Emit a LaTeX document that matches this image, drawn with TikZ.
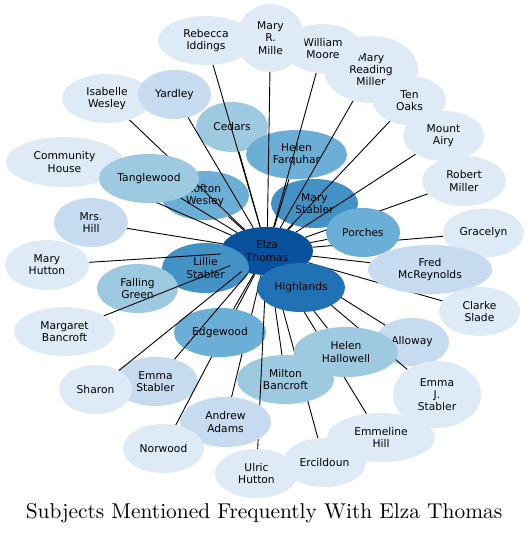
\documentclass[tikz,border=0pt]{standalone}
\usepackage{fontspec}
\usetikzlibrary{shapes.geometric}
\newfontfamily\labelfont{DejaVu Sans}
\newfontfamily\titlefont{lmroman10-regular.otf}
\definecolor{blues0}{HTML}{DEEBF7}
\definecolor{blues1}{HTML}{C6DBEF}
\definecolor{blues2}{HTML}{9ECAE1}
\definecolor{blues3}{HTML}{6BAED6}
\definecolor{blues4}{HTML}{4292C6}
\definecolor{blues5}{HTML}{2171B5}
\definecolor{blues6}{HTML}{08519C}
\pgfdeclarelayer{back}
\pgfdeclarelayer{under}
\pgfdeclarelayer{mid}
\pgfsetlayers{back,under,mid,main}

\begin{document}
\begin{tikzpicture}[x=1pt, y=-1pt,
	subj/.style={ellipse, inner sep=0pt, minimum height=49pt, align=center, text=black,
		font=\labelfont\fontsize{10.7}{12.3}\selectfont},
	lv0/.style={subj, fill=blues0}, lv1/.style={subj, fill=blues1},
	lv2/.style={subj, fill=blues2}, lv3/.style={subj, fill=blues3},
	lv4/.style={subj, fill=blues4}, lv5/.style={subj, fill=blues5},
	lv6/.style={subj, fill=blues6},
	link/.style={line width=0.9pt}]
	\useasboundingbox (0,0) rectangle (529,534);
	% nodes lying under the connectors
	\begin{pgfonlayer}{under}
	\node[lv6, minimum width=92pt, minimum height=48pt] (elza) at (267,251) {Elza\\Thomas};
	\node[lv4, minimum width=87pt, minimum height=50pt] (lillie) at (205.5,268) {Lillie\\Stabler};
	\node[lv2, minimum width=72pt, minimum height=50pt] (cedars) at (232,127) {Cedars};
	\node[lv3, minimum width=101pt] (farquhar) at (296.5,154.5) {Helen\\Farquhar};
	\node[lv4, minimum width=87pt] (mstabler) at (314.5,203.5) {Mary\\Stabler};
	\node[lv3, minimum width=88pt] (tofton) at (205,195.5) {Tofton\\Wesley};
	\node[lv2, minimum width=81pt] (falling) at (137.5,288.5) {Falling\\Green};
	\node[lv1, minimum width=85pt] (establer) at (155.5,381.5) {Emma\\Stabler};
	\end{pgfonlayer}
	\begin{pgfonlayer}{mid}
	\node[lv3, minimum width=92pt] (edgewood) at (220,332.5) {Edgewood};
	\node[lv2, minimum width=97pt] (milton) at (285.5,379.5) {Milton\\Bancroft};
	\node[lv1, minimum width=74pt, minimum height=48pt] (alloway) at (412,342) {Alloway};
	\end{pgfonlayer}
	% nodes over the connectors
	\node[lv0, minimum width=117pt, minimum height=50pt] (community) at (64.5,162) {Community\\House};
	\node[lv2, minimum width=100pt] (tanglewood) at (149,178.5) {Tanglewood};
	\node[lv0, minimum width=90pt] (isabelle) at (107,98.5) {Isabelle\\Wesley};
	\node[lv1, minimum width=73pt] (yardley) at (174.5,94.5) {Yardley};
	\node[lv0, minimum width=96pt] (rebecca) at (206,40.5) {Rebecca\\Iddings};
	\node[lv0, minimum width=94pt, minimum height=67pt] (mreading) at (371,69.5) {Mary\\Reading\\Miller};
	\node[lv0, minimum width=78pt] (wmoore) at (323,48.5) {William\\Moore};
	\node[lv0, minimum width=68pt, minimum height=68pt] (mrmille) at (270.5,38) {Mary\\R.\\Mille};
	\node[lv0, minimum width=73pt] (tenoaks) at (409.5,100.5) {Ten\\Oaks};
	\node[lv0, minimum width=81pt, minimum height=50pt] (mountairy) at (443.5,136) {Mount\\Airy};
	\node[lv0, minimum width=84pt, minimum height=50pt] (rmiller) at (464,181) {Robert\\Miller};
	\node[lv0, minimum width=81pt] (gracelyn) at (483.5,233) {Gracelyn};
	\node[lv3, minimum width=74pt] (porches) at (363,232.5) {Porches};
	\node[lv1, minimum width=124pt] (fred) at (430,269.5) {Fred\\McReynolds};
	\node[lv0, minimum width=81pt] (clarke) at (479.5,311.5) {Clarke\\Slade};
	\node[lv5, minimum width=88pt] (highlands) at (301,287.5) {Highlands};
	\node[lv0, minimum width=88pt, minimum height=67pt] (emmaj) at (437,394.5) {Emma\\J.\\Stabler};
	\node[lv2, minimum width=104pt, minimum height=50pt] (hallowell) at (346,352) {Helen\\Hallowell};
	\node[lv0, minimum width=83pt] (ulric) at (256.5,473.5) {Ulric\\Hutton};
	\node[lv0, minimum width=83pt] (ercildoun) at (324.5,462.5) {Ercildoun};
	\node[lv0, minimum width=108pt] (emmeline) at (381,437.5) {Emmeline\\Hill};
	\node[lv1, minimum width=91pt, minimum height=50pt] (andrew) at (225.5,422) {Andrew\\Adams};
	\node[lv0, minimum width=81pt] (norwood) at (163.5,448.5) {Norwood};
	\node[lv0, minimum width=73pt] (sharon) at (95.5,389.5) {Sharon};
	\node[lv0, minimum width=101pt] (margaret) at (64.5,331.5) {Margaret\\Bancroft};
	\node[lv0, minimum width=84pt, minimum height=50pt] (mhutton) at (47,265) {Mary\\Hutton};
	\node[lv1, minimum width=74pt] (mrshill) at (91,222.5) {Mrs.\\Hill};
	\node[font=\titlefont\fontsize{21.4}{25}\selectfont, anchor=base] (title) at (264,518) {Subjects Mentioned Frequently With Elza Thomas};
	% connectors
	\begin{pgfonlayer}{back}
	\foreach \s in {lillie, falling}
		\draw[link] (elza) -- (\s);
	\end{pgfonlayer}
	\begin{pgfonlayer}{under}
	\foreach \s in {norwood, andrew, ercildoun}
		\draw[link] (elza) -- (\s);
	\end{pgfonlayer}
	\begin{pgfonlayer}{mid}
	\foreach \s in {cedars, farquhar, mstabler, tofton, establer, edgewood, milton, alloway,
		community, tanglewood, isabelle, yardley, rebecca, mreading, wmoore, mrmille,
		tenoaks, mountairy, rmiller, gracelyn, porches, fred, clarke, highlands, emmaj,
		hallowell, ulric, emmeline, sharon, margaret, mhutton, mrshill}
		\draw[link] (elza) -- (\s);
	\end{pgfonlayer}
\end{tikzpicture}
\end{document}
